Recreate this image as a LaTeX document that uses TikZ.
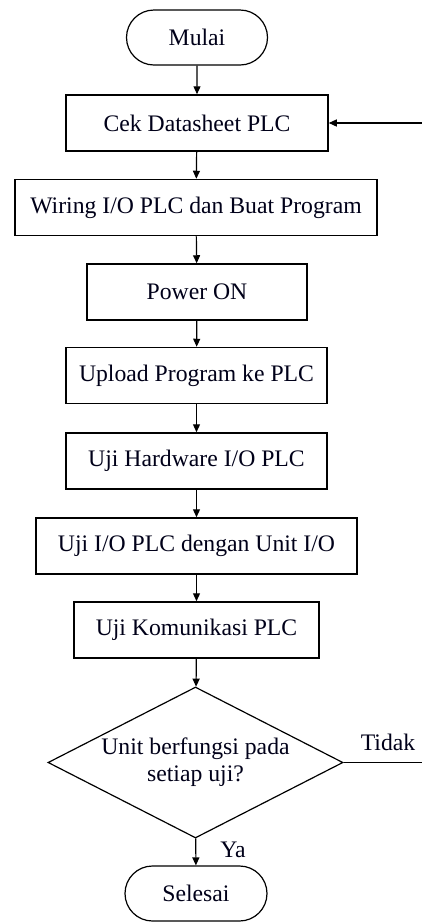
\documentclass[tikz,border=0pt]{standalone}
\usepackage{fontspec}
\setmainfont{Liberation Serif}
\usetikzlibrary{shapes.geometric,shapes.misc,arrows.meta}
\begin{document}
\begin{tikzpicture}[x=1pt,y=-1pt,
  every node/.style={font=\fontsize{23.7}{27}\selectfont, text=black!90!blue},
  stepbox/.style={draw, line width=1.5pt, minimum height=56pt, inner sep=0pt},
  term/.style={draw, line width=1.2pt, rounded rectangle, minimum height=55pt, minimum width=141pt, inner sep=0pt},
  decide/.style={draw, line width=1.2pt, diamond, aspect=1.95, minimum width=295pt, minimum height=151pt, inner sep=0pt, align=center},
  flow/.style={line width=1.2pt, -{Triangle[length=8pt,width=7pt]}},
  plain/.style={line width=1.2pt}
]
\useasboundingbox (0,0) rectangle (422,922);
\fill[white] (0,0) rectangle (422,922);

\node[term] (mulai) at (197,37.5) {Mulai};
\node[stepbox, minimum width=262pt] (cek) at (197,123) {Cek Datasheet PLC};
\node[stepbox, minimum width=362pt] (wiring) at (196,207.5) {Wiring I/O PLC dan Buat Program};
\node[stepbox, minimum width=220pt] (power) at (197,292) {Power ON};
\node[stepbox, minimum width=261pt] (upload) at (196.5,375.5) {Upload Program ke PLC};
\node[stepbox, minimum width=261pt] (hw) at (196.5,461) {Uji Hardware I/O PLC};
\node[stepbox, minimum width=321pt] (ujiio) at (196.5,546) {Uji I/O PLC dengan Unit I/O};
\node[stepbox, minimum width=245pt] (kom) at (196.5,630) {Uji Komunikasi PLC};
\node[decide] (cek2) at (195.5,762.5) {Unit berfungsi pada\\setiap uji?};
\node[term, minimum width=142pt] (selesai) at (196,893.5) {Selesai};

\node (ya) at (233,850) {Ya};
\node (tidak) at (388,742) {Tidak};

\coordinate (fbBottom) at (422,762.5);
\coordinate (fbTop) at (422,123);

\draw[flow] (mulai) -- (cek);
\draw[flow] (cek) -- (wiring);
\draw[flow] (wiring) -- (power);
\draw[flow] (power) -- (upload);
\draw[flow] (upload) -- (hw);
\draw[flow] (hw) -- (ujiio);
\draw[flow] (ujiio) -- (kom);
\draw[flow] (kom) -- (cek2);
\draw[flow] (cek2) -- (selesai);
\draw[plain] (cek2.east) -- (fbBottom);
\draw[flow] (fbTop) -- (cek.east);
\end{tikzpicture}
\end{document}
